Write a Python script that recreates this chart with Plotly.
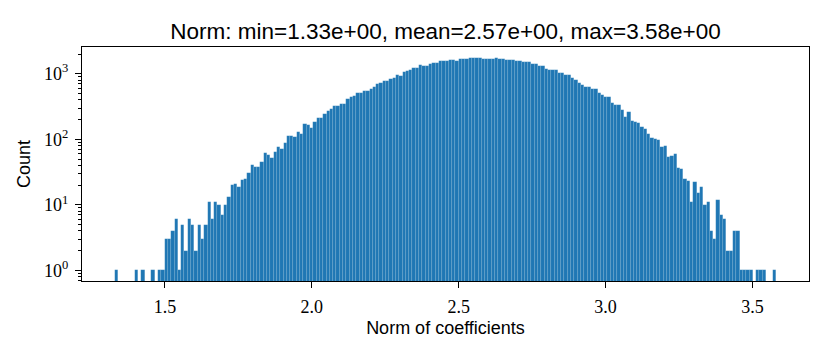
import numpy as np
import plotly.graph_objects as go

# histogram of coefficient norms, 200 equal bins between min and max
norm_min = 1.33
norm_max = 3.58
norm_mean = 2.57
n_bins = 200

counts = [
    1, 0, 0, 0, 0, 0, 1, 0, 1, 0, 0, 1, 0, 1, 1, 3, 3, 4, 6, 1,
    5, 2, 6, 5, 2, 5, 3, 5, 11, 6, 11, 10, 7, 10, 13, 20, 21, 19, 24, 25,
    31, 40, 38, 38, 45, 61, 58, 51, 63, 75, 72, 89, 112, 112, 110, 127, 122, 173, 165, 150,
    186, 214, 214, 240, 270, 293, 323, 323, 351, 351, 418, 443, 458, 517, 517, 540, 540, 593, 627, 708,
    733, 768, 775, 824, 855, 949, 925, 1045, 1090, 1150, 1230, 1230, 1350, 1320, 1320, 1400, 1480, 1460, 1550, 1550,
    1550, 1610, 1610, 1580, 1700, 1700, 1700, 1740, 1720, 1720, 1760, 1700, 1700, 1690, 1690, 1720, 1680, 1650, 1640, 1640,
    1630, 1550, 1550, 1515, 1515, 1500, 1397, 1397, 1290, 1290, 1200, 1130, 1130, 1130, 1020, 1020, 960, 960, 855, 805,
    733, 665, 617, 617, 580, 580, 517, 470, 442, 435, 355, 338, 338, 277, 222, 258, 193, 186, 180, 154,
    146, 120, 106, 100, 97, 76, 79, 54, 56, 59, 36, 35, 25, 23, 11, 22, 15, 19, 10, 11,
    4, 3, 12, 7, 6, 2, 2, 4, 4, 1, 1, 1, 1, 0, 1, 1, 1, 0, 0, 1,
]

x_ticks = [1.5, 2.0, 2.5, 3.0, 3.5]
y_ticks = [1, 10, 100, 1000]
y_ticktext = ["10<sup>0</sup>", "10<sup>1</sup>", "10<sup>2</sup>", "10<sup>3</sup>"]

bin_width = (norm_max - norm_min) / n_bins
centers = norm_min + (np.arange(n_bins) + 0.5) * bin_width
y = [c if c > 0 else None for c in counts]

# matplotlib-style 5% margins
pad = 0.05 * (norm_max - norm_min)
top = np.log10(max(counts))
y_range = [-0.05 * top, 1.05 * top]
minor_vals = [m * 10 ** e for e in range(-1, 4) for m in range(2, 10)]

serif = "Liberation Serif"
sans = "Liberation Sans"

fig = go.Figure()
fig.add_trace(
    go.Bar(
        x=centers,
        y=y,
        width=bin_width,
        marker_color="#1f77b4",
        marker_line_color="rgba(255,255,255,0.18)",
        marker_line_width=0.5,
    )
)

# page body has an 8px margin, so the figure is 8px smaller than the window
fig.update_layout(
    width=822,
    height=348,
    margin=dict(l=74, r=21, t=39, b=75),
    plot_bgcolor="white",
    paper_bgcolor="white",
    showlegend=False,
    bargap=0,
    title=dict(
        text=f"Norm: min={norm_min:.2e}, mean={norm_mean:.2e}, max={norm_max:.2e}",
        x=(74 + 801) / 2 / 822,
        xanchor="center",
        y=1 - 23 / 348,
        yanchor="middle",
        font=dict(family=sans, size=22.5, color="black"),
    ),
)

fig.update_xaxes(
    range=[norm_min - pad, norm_max + pad],
    tickvals=x_ticks,
    tickformat=".1f",
    ticks="outside",
    ticklen=6,
    tickcolor="black",
    ticklabelstandoff=3,
    showgrid=False,
    zeroline=False,
    showline=True,
    linecolor="black",
    linewidth=1,
    mirror=True,
    tickfont=dict(family=serif, size=18, color="black"),
    title=dict(text="Norm of coefficients", standoff=5,
               font=dict(family=sans, size=18, color="black")),
)

fig.update_yaxes(
    type="log",
    range=y_range,
    tickvals=y_ticks,
    ticktext=y_ticktext,
    ticks="outside",
    ticklen=6,
    tickcolor="black",
    ticklabelstandoff=3,
    minor=dict(tickvals=minor_vals, ticks="outside", ticklen=3, tickcolor="black", showgrid=False),
    showgrid=False,
    zeroline=False,
    showline=True,
    linecolor="black",
    linewidth=1,
    mirror=True,
    tickfont=dict(family=serif, size=18, color="black"),
    title=dict(text="Count", standoff=8,
               font=dict(family=sans, size=18, color="black")),
)

fig.write_html("out.html")
